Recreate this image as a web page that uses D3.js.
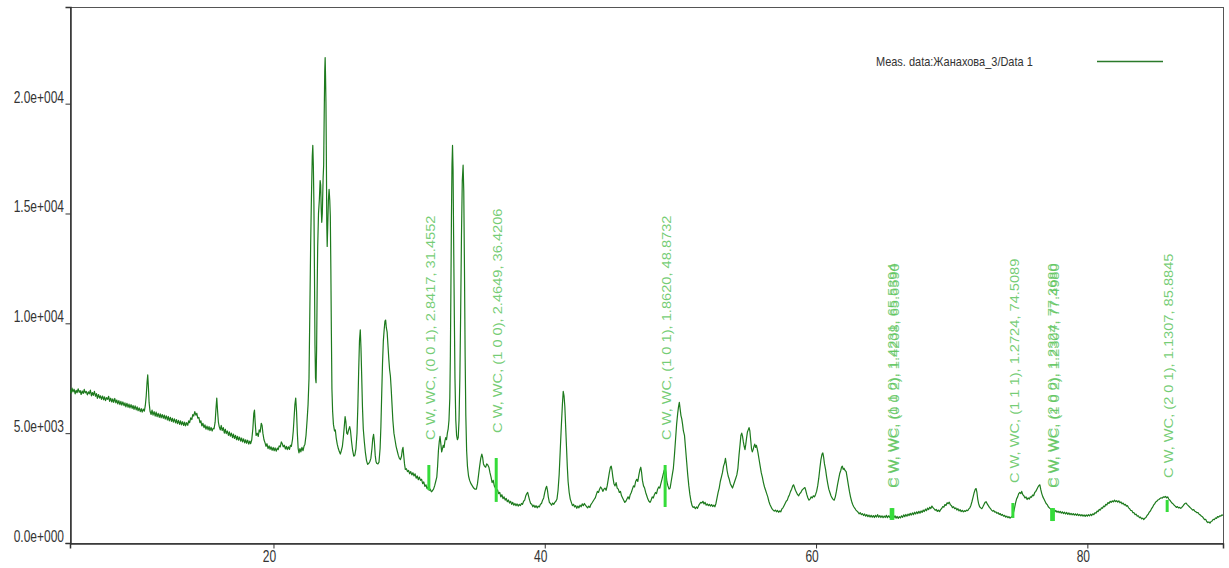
<!DOCTYPE html>
<html>
<head>
<meta charset="utf-8">
<script src="https://cdn.jsdelivr.net/npm/d3@7"></script>
<style>
  html, body { margin: 0; padding: 0; background: #ffffff; }
  svg { display: block; }
  text { font-family: Arial, "Liberation Sans", sans-serif; }
</style>
</head>
<body>
<svg id="chart" width="1229" height="568"></svg>
<script>
// Axis ticks
const xTicks = [20, 40, 60, 80];
const yTicks = [0, 5000, 10000, 15000, 20000];

// Measured scan, [2θ (deg), counts], split by angular range
const scanLow = [
  [5.00,6980],[5.08,6820],[5.15,7050],[5.22,6880],[5.30,7000],[5.38,6790],[5.45,6950],[5.52,6840],[5.60,7020],[5.68,6860],
  [5.75,6940],[5.82,6760],[5.90,6920],[5.98,6810],[6.05,6990],[6.12,6830],[6.20,6900],[6.28,6740],[6.35,6880],[6.42,6790],
  [6.50,6960],[6.58,6700],[6.65,6850],[6.72,6720],[6.80,6900],[6.88,6680],[6.95,6800],[7.02,6580],[7.10,6760],[7.18,6600],
  [7.25,6700],[7.32,6540],[7.40,6690],[7.48,6520],[7.55,6650],[7.62,6480],[7.70,6620],[7.78,6540],[7.85,6680],[7.92,6450],
  [8.00,6590],[8.08,6420],[8.15,6560],[8.22,6400],[8.30,6580],[8.38,6380],[8.45,6510],[8.52,6330],[8.60,6480],[8.68,6300],
  [8.75,6450],[8.82,6280],[8.90,6420],[8.98,6250],[9.05,6380],[9.12,6200],[9.20,6360],[9.28,6180],[9.35,6320],[9.42,6150],
  [9.50,6300],[9.58,6130],[9.65,6260],[9.72,6080],[9.80,6240],[9.88,6060],[9.95,6200],[10.02,6020],[10.10,6150],[10.18,5980],
  [10.25,6120],[10.32,5960],[10.40,6100],[10.48,6000],[10.55,6250],[10.62,6700],[10.68,7300],[10.73,7650],[10.78,7100],[10.83,6400],
  [10.90,6000],[10.98,5850],[11.05,6050],[11.12,5820],[11.20,5980],[11.28,5780],[11.35,5960],[11.42,5750],[11.50,5900],[11.58,5720],
  [11.65,5880],[11.72,5700],[11.80,5850],[11.88,5680],[11.95,5820],[12.02,5640],[12.10,5790],[12.18,5600],[12.25,5760],[12.32,5560],
  [12.40,5720],[12.48,5540],[12.55,5680],[12.62,5500],[12.70,5650],[12.78,5470],[12.85,5620],[12.92,5430],[13.00,5580],[13.08,5400],
  [13.15,5560],[13.22,5380],[13.30,5520],[13.38,5350],[13.45,5500],[13.52,5330],[13.60,5480],[13.68,5360],[13.75,5560],[13.82,5480],
  [13.90,5700],[13.98,5620],[14.05,5850],[14.12,5780],[14.20,5980],[14.28,5820],[14.35,5900],[14.42,5680],[14.50,5720],[14.58,5480],
  [14.65,5560],[14.72,5330],[14.80,5450],[14.88,5250],[14.95,5380],[15.02,5180],[15.10,5320],[15.18,5150],[15.25,5300],[15.32,5120],
  [15.40,5260],[15.48,5100],[15.55,5220],[15.62,5200],[15.70,5500],[15.76,6100],[15.82,6600],[15.88,6000],[15.94,5500],[16.00,5300],
  [16.08,5150],[16.15,5350],[16.22,5120],[16.30,5250],[16.38,5000],[16.45,5180],[16.52,4980],[16.60,5100],[16.68,4900],[16.75,5060],
  [16.82,4860],[16.90,5000],[16.98,4800],[17.05,4960],[17.12,4760],[17.20,4900],[17.28,4700],[17.35,4860],[17.42,4680],[17.50,4820],
  [17.58,4640],[17.65,4780],[17.72,4600],[17.80,4740],[17.88,4560],[17.95,4700],[18.02,4540],[18.10,4680],[18.18,4500],[18.25,4640],
  [18.32,4520],[18.40,4700],[18.48,5200],[18.55,5900],[18.60,6050],[18.65,5500],[18.72,4900],[18.80,5000],[18.88,4850],[18.95,5150],
  [19.02,5050],[19.10,5450],[19.16,5350],[19.22,5000],[19.30,4700],[19.38,4560],[19.45,4400],[19.52,4520],[19.60,4300],[19.68,4420],
  [19.75,4260],[19.82,4380],[19.90,4220],[19.98,4350],[20.05,4200],[20.12,4330],[20.20,4180],[20.28,4320],[20.35,4250],[20.42,4420],
  [20.50,4380],[20.58,4600],[20.65,4520],[20.72,4380],[20.80,4450],[20.88,4280],[20.95,4400],[21.02,4250],[21.10,4380],[21.18,4260],
  [21.25,4450],[21.32,4400],[21.40,4700],[21.46,5100],[21.52,5700],[21.58,6300],[21.64,6600],[21.70,6000],[21.76,5000],[21.82,4300],
  [21.88,4100],[21.95,4300],[22.02,4150],[22.10,4350],[22.18,4200],[22.25,4400],[22.32,4500],[22.40,4900],[22.48,5600]
];

const scanMain = [
  [22.55,6300],[22.62,7500],[22.68,10500],[22.74,13500],[22.80,15800],[22.86,17600],[22.90,18100],[22.94,17200],[22.98,15500],[23.02,12500],
  [23.06,9000],[23.10,7500],[23.14,7300],[23.18,8800],[23.22,11500],[23.26,13500],[23.32,15000],[23.38,15600],[23.44,16500],[23.48,16300],
  [23.52,15200],[23.56,14600],[23.60,15000],[23.66,16600],[23.70,17200],[23.74,19500],[23.78,21500],[23.81,22100],[23.84,21200],[23.87,20000],
  [23.90,17500],[23.93,14500],[23.96,13500],[24.00,14400],[24.05,15600],[24.10,16100],[24.15,15600],[24.19,14900],[24.23,12500],[24.27,9500],
  [24.31,7000],[24.36,6000],[24.42,5400],[24.50,5100],[24.56,5150],[24.62,4800],[24.70,4500],[24.78,4300],[24.86,4150],[24.93,4050],
  [25.00,4200],[25.08,4400],[25.15,4800],[25.22,5300],[25.28,5750],[25.34,5500],[25.40,5000],[25.46,4950],[25.54,5150],[25.62,5300],
  [25.68,5100],[25.76,4600],[25.84,4200],[25.92,3950],[26.00,4000],[26.08,4300],[26.16,5000],[26.22,6200],[26.28,7800],[26.34,9200],
  [26.40,9700],[26.45,8900],[26.50,7700],[26.56,6200],[26.62,5200],[26.70,4600],[26.78,4100],[26.86,3750],[26.94,3580],[27.02,3620],
  [27.10,3700],[27.18,3850],[27.26,4300],[27.32,4750],[27.38,4950],[27.44,4600],[27.50,4000],[27.56,3700],[27.62,3620],[27.70,3600],
  [27.78,3680],[27.86,4300],[27.92,5300],[27.98,6800],[28.04,8200],[28.10,9200],[28.16,9700],[28.22,10100],[28.27,10150],[28.32,9800],
  [28.38,9600],[28.44,9000],[28.50,8400],[28.56,7900],[28.62,7600],[28.68,7000],[28.74,6300],[28.80,5600],[28.88,5000],[28.96,4700],
  [29.04,4400],[29.12,4200],[29.20,4000],[29.28,3850],[29.36,3800],[29.44,3950],[29.50,4250],[29.55,4350],[29.60,4000],[29.66,3600],
  [29.72,3350],[29.80,3380],[29.88,3250],[29.96,3300],[30.04,3150],[30.12,3250],[30.20,3100],[30.28,3200],[30.36,3050],[30.44,3150],
  [30.52,2950],[30.60,3050],[30.68,2880],[30.76,3000],[30.84,2850],[30.92,2900],[31.00,2700],[31.08,2780],[31.16,2580],[31.24,2650],
  [31.32,2480],[31.40,2550],[31.48,2400],[31.56,2450],[31.64,2330],[31.72,2380],[31.80,2450],[31.88,2600],[31.96,2800],[32.04,3000],
  [32.10,3500],[32.16,4200],[32.22,4600],[32.28,4850],[32.34,4500],[32.40,4150],[32.46,4300],[32.52,4450],[32.58,4350],[32.64,4650],
  [32.70,4800],[32.76,4700],[32.82,5000],[32.88,5200],[32.94,5600],[33.00,6600],[33.04,8500],[33.08,11500],[33.12,14800],[33.16,17200],
  [33.20,18100],[33.24,17000],[33.28,14000],[33.33,10500],[33.38,7500],[33.44,5600],[33.50,4900],[33.56,4700],[33.62,4800],[33.68,5600],
  [33.74,7500],[33.80,10500],[33.86,14000],[33.92,16500],[33.98,17200],[34.03,16000],[34.08,12500],[34.13,8500],[34.18,5800],[34.24,4200],
  [34.30,3500],[34.38,3050],[34.46,2850],[34.56,2700],[34.66,2600],[34.76,2500],[34.86,2450],[34.96,2450],[35.04,2700],[35.12,3100],
  [35.20,3500],[35.28,3850],[35.36,4050],[35.42,3900],[35.48,3600],[35.56,3500],[35.64,3450],[35.72,3600],[35.80,3550],[35.88,3450],
  [35.96,3200]
];

const scanMid = [
  [36.04,3000],[36.12,2750],[36.20,2850],[36.28,2600],[36.36,2500],[36.44,2350],[36.52,2420],[36.60,2250],[36.68,2300],[36.76,2100],
  [36.84,2200],[36.92,2020],[37.00,2100],[37.08,1950],[37.16,2030],[37.24,1880],[37.32,1960],[37.40,1820],[37.48,1900],[37.56,1760],
  [37.64,1850],[37.72,1720],[37.80,1800],[37.88,1700],[37.96,1780],[38.04,1680],[38.12,1760],[38.20,1700],[38.28,1800],[38.36,1760],
  [38.44,1900],[38.52,1950],[38.60,2150],[38.68,2250],[38.74,2300],[38.80,2150],[38.88,1950],[38.96,1800],[39.04,1760],[39.12,1650],
  [39.20,1720],[39.28,1620],[39.36,1700],[39.44,1600],[39.52,1680],[39.60,1640],[39.68,1760],[39.76,1800],[39.84,1950],[39.92,2050],
  [40.00,2300],[40.08,2500],[40.14,2580],[40.20,2400],[40.26,2100],[40.34,1850],[40.42,1800],[40.50,1720],[40.58,1820],[40.66,1760],
  [40.74,1850],[40.82,1900],[40.90,2000],[40.98,2400],[41.06,3100],[41.14,4200],[41.22,5300],[41.30,6300],[41.36,6900],[41.42,6700],
  [41.48,6200],[41.54,5300],[41.60,4400],[41.66,3500],[41.72,2800],[41.80,2300],[41.88,2000],[41.96,1850],[42.04,1700],[42.12,1760],
  [42.20,1640],[42.28,1700],[42.36,1580],[42.44,1680],[42.52,1600],[42.60,1720],[42.68,1650],[42.76,1780],[42.84,1700],[42.92,1800],
  [43.00,1720],[43.08,1660],[43.16,1600],[43.24,1680],[43.32,1620],[43.40,1750],[43.48,1820],[43.56,1900],[43.64,1980],[43.72,2050],
  [43.80,2200],[43.88,2350],[43.96,2300],[44.04,2450],[44.12,2550],[44.20,2480],[44.28,2350],[44.36,2450],[44.44,2500],[44.52,2400],
  [44.60,2600],[44.68,2900],[44.76,3200],[44.84,3450],[44.90,3500],[44.96,3300],[45.02,3000],[45.10,2700],[45.18,2600],[45.26,2750],
  [45.34,2500],[45.42,2450],[45.50,2300],[45.58,2350],[45.66,2150],[45.74,2050],[45.82,1950],[45.90,1850],[45.98,1900],[46.06,2000],
  [46.14,2100],[46.22,2000],[46.30,2200],[46.38,2300],[46.46,2450],[46.54,2600],[46.62,2550],[46.70,2800],[46.78,2900],[46.86,2800],
  [46.94,3100],[47.02,3350],[47.08,3450],[47.14,3200],[47.20,2850],[47.28,2600],[47.36,2500],[47.44,2300],[47.52,2150],[47.60,2000],
  [47.68,1900],[47.76,1850],[47.84,1950],[47.92,2100],[48.00,2050],[48.08,2200],[48.16,2300],[48.24,2250],[48.32,2450],[48.40,2550],
  [48.48,2500],[48.56,2700],[48.64,2900],[48.72,3100],[48.80,3300],[48.88,3400],[48.94,3200],[49.00,2800],[49.08,2600],[49.16,2450],
  [49.24,2500],[49.32,2800],[49.40,3100],[49.48,3400],[49.56,4000],[49.64,4700],[49.72,5400],[49.80,5900],[49.86,6200],[49.92,6400],
  [49.98,6100],[50.04,5800],[50.10,5650],[50.16,5400],[50.22,5100],[50.30,4900],[50.38,4300],[50.46,3700],[50.54,3100],[50.62,2600],
  [50.70,2200],[50.78,1900],[50.86,1700],[50.94,1620],[51.02,1650],[51.10,1560],[51.18,1640],[51.26,1580],[51.34,1700],[51.42,1780],
  [51.50,1850],[51.58,1820],[51.66,1900],[51.74,1780],[51.82,1850],[51.90,1720],[51.98,1780],[52.06,1700],[52.14,1760],[52.22,1680],
  [52.30,1750],[52.38,1660],[52.46,1720],[52.54,1650],[52.62,1800],[52.70,2050],[52.78,2300],[52.86,2500],[52.94,2800],[53.02,3000],
  [53.10,3200],[53.18,3500],[53.26,3650],[53.32,3850],[53.38,3600],[53.44,3300],[53.52,3050],[53.60,2900],[53.68,2700],[53.76,2600],
  [53.84,2500],[53.92,2650],[54.00,2800],[54.08,2950],[54.16,3100],[54.24,3400],[54.32,4000],[54.40,4500],[54.46,4900],[54.52,5000],
  [54.58,4850],[54.64,4600],[54.70,4400],[54.76,4250],[54.82,4500],[54.88,4800],[54.94,5050],[55.00,5150],[55.06,5250],[55.12,5100],
  [55.18,4700],[55.24,4300],[55.30,4150],[55.36,4250],[55.42,4400],[55.48,4500],[55.54,4350],[55.60,4450],[55.66,4300],[55.72,4100],
  [55.80,3800],[55.88,3500],[55.96,3200],[56.04,3000],[56.12,2750],[56.20,2550],[56.28,2400],[56.36,2250],[56.44,2100],[56.52,1900],
  [56.60,1750],[56.68,1650],[56.76,1550],[56.84,1500],[56.92,1450],[57.00,1500],[57.08,1420],[57.16,1480],[57.24,1400],[57.32,1460],
  [57.40,1420],[57.48,1550],[57.56,1600],[57.64,1700],[57.72,1800],[57.80,1900],[57.88,1950],[57.96,2100],[58.04,2200],[58.12,2350],
  [58.20,2450],[58.28,2600],[58.34,2650],[58.40,2550],[58.48,2400],[58.56,2300],[58.64,2200],[58.72,2150],[58.80,2250],[58.88,2300],
  [58.96,2400],[59.04,2450],[59.12,2500],[59.18,2520],[59.24,2400],[59.32,2200],[59.40,2050],[59.48,1950],[59.56,2000],[59.64,2100],
  [59.72,2050],[59.80,2150],[59.88,2100],[59.96,2200],[60.04,2350],[60.12,2600],[60.20,2950],[60.28,3400],[60.36,3800],[60.44,4050],
  [60.50,4100],[60.56,3900],[60.62,3600],[60.70,3350],[60.78,3000],[60.86,2700],[60.94,2450],[61.02,2300],[61.10,2150],[61.18,2050],
  [61.26,1980],[61.34,1950],[61.42,2100],[61.50,2350],[61.58,2650],[61.66,2900],[61.74,3150],[61.82,3300],[61.88,3450],[61.94,3500],
  [62.00,3350],[62.06,3400],[62.14,3300],[62.22,3250],[62.30,2950],[62.38,2650],[62.46,2350],[62.54,2100],[62.62,1900],[62.70,1750],
  [62.78,1650],[62.86,1580]
];

const scanHigh = [
  [62.94,1500],[63.02,1450],[63.10,1400],[63.18,1330],[63.26,1380],[63.34,1290],[63.42,1340],[63.50,1250],[63.58,1320],[63.66,1220],
  [63.74,1290],[63.82,1200],[63.90,1270],[63.98,1180],[64.06,1260],[64.14,1170],[64.22,1250],[64.30,1160],[64.38,1260],[64.46,1180],
  [64.54,1290],[64.62,1170],[64.70,1250],[64.78,1160],[64.86,1240],[64.94,1150],[65.02,1230],[65.10,1160],[65.18,1260],[65.26,1150],
  [65.34,1240],[65.42,1170],[65.50,1290],[65.58,1180],[65.66,1260],[65.74,1150],[65.82,1240],[65.90,1130],[65.98,1210],[66.06,1120],
  [66.14,1200],[66.22,1140],[66.30,1240],[66.38,1170],[66.46,1280],[66.54,1200],[66.62,1300],[66.70,1220],[66.78,1320],[66.86,1250],
  [66.94,1350],[67.02,1270],[67.10,1370],[67.18,1290],[67.26,1400],[67.34,1320],[67.42,1420],[67.50,1340],[67.58,1440],[67.66,1360],
  [67.74,1460],[67.82,1390],[67.90,1500],[67.98,1430],[68.06,1540],[68.14,1470],[68.22,1590],[68.30,1520],[68.38,1630],[68.46,1570],
  [68.54,1680],[68.62,1610],[68.70,1560],[68.78,1490],[68.86,1530],[68.94,1440],[69.02,1500],[69.10,1430],[69.18,1520],[69.26,1570],
  [69.34,1660],[69.42,1630],[69.50,1750],[69.58,1710],[69.66,1830],[69.74,1790],[69.82,1860],[69.90,1740],[69.98,1700],[70.06,1610],
  [70.14,1650],[70.22,1560],[70.30,1600],[70.38,1500],[70.46,1560],[70.54,1460],[70.62,1520],[70.70,1430],[70.78,1490],[70.86,1420],
  [70.94,1470],[71.02,1440],[71.10,1500],[71.18,1470],[71.26,1550],[71.34,1600],[71.42,1720],[71.50,1900],[71.58,2100],[71.66,2300],
  [71.74,2450],[71.80,2480],[71.86,2300],[71.92,2000],[71.98,1800],[72.06,1650],[72.14,1600],[72.22,1560],[72.30,1650],[72.38,1750],
  [72.46,1850],[72.54,1880],[72.62,1780],[72.70,1700],[72.78,1620],[72.86,1560],[72.94,1500],[73.02,1450],[73.10,1480],[73.18,1400],
  [73.26,1420],[73.34,1350],[73.42,1380],[73.50,1300],[73.58,1340],[73.66,1260],[73.74,1300],[73.82,1220],[73.90,1260],[73.98,1180],
  [74.06,1220],[74.14,1150],[74.22,1200],[74.30,1130],[74.38,1180],[74.46,1200],[74.54,1350],[74.62,1550],[74.70,1800],[74.78,2000],
  [74.86,2100],[74.94,2250],[75.02,2300],[75.10,2250],[75.16,2350],[75.24,2200],[75.32,2150],[75.40,2050],[75.48,2100],[75.56,1980],
  [75.64,2050],[75.72,2000],[75.80,2100],[75.88,2080],[75.96,2180],[76.04,2150],[76.12,2300],[76.20,2350],[76.28,2450],[76.36,2550],
  [76.44,2620],[76.50,2650],[76.56,2450],[76.64,2250],[76.72,2100],[76.80,2000],[76.88,1900],[76.96,1800],[77.04,1750],[77.12,1650],
  [77.20,1600],[77.28,1550],[77.36,1500],[77.44,1480],[77.52,1500],[77.60,1420],[77.68,1480],[77.76,1400],[77.84,1450],[77.92,1380],
  [78.00,1440],[78.08,1360],[78.16,1420],[78.24,1340],[78.32,1400],[78.40,1320],[78.48,1390],[78.56,1300],[78.64,1370],[78.72,1290],
  [78.80,1350],[78.88,1280],[78.96,1340],[79.04,1270],[79.12,1330],[79.20,1260],[79.28,1320],[79.36,1250],[79.44,1300],[79.52,1230],
  [79.60,1290],[79.68,1220],[79.76,1280],[79.84,1210],[79.92,1280],[80.00,1220],[80.08,1290],[80.16,1230],[80.24,1310],[80.32,1250],
  [80.40,1330],[80.48,1290],[80.56,1380],[80.64,1360],[80.72,1450],[80.80,1430],[80.88,1530],[80.96,1500],[81.04,1600],[81.12,1580],
  [81.20,1680],[81.28,1650],[81.36,1760],[81.44,1730],[81.52,1840],[81.60,1800],[81.68,1900],[81.76,1850],[81.84,1920],[81.92,1870],
  [82.00,1950],[82.08,1880],[82.16,1930],[82.24,1860],[82.32,1920],[82.40,1830],[82.48,1870],[82.56,1780],[82.64,1820],[82.72,1730],
  [82.80,1760],[82.88,1680],[82.96,1700],[83.04,1600],[83.12,1560],[83.20,1480],[83.28,1480],[83.36,1380],[83.44,1380],[83.52,1290],
  [83.60,1310],[83.68,1220],[83.76,1240],[83.84,1150],[83.92,1180],[84.00,1100],[84.08,1130],[84.16,1070],[84.24,1130],[84.32,1160],
  [84.40,1250],[84.48,1300],[84.56,1400],[84.64,1450],[84.72,1550],[84.80,1620],[84.88,1720],[84.96,1780],[85.04,1870],[85.12,1900],
  [85.20,1960],[85.28,1980],[85.36,2030],[85.44,2060],[85.52,2040],[85.60,2100],[85.68,2080],[85.76,2120],[85.84,2060],[85.92,2100],
  [86.00,2000],[86.08,1950],[86.16,1880],[86.24,1820],[86.32,1780],[86.40,1720],[86.48,1680],[86.56,1620],[86.64,1660],[86.72,1600],
  [86.80,1620],[86.88,1580],[86.96,1620],[87.04,1680],[87.12,1750],[87.20,1800],[87.28,1820],[87.36,1750],[87.44,1700],[87.52,1650],
  [87.60,1600],[87.68,1550],[87.76,1500],[87.84,1520],[87.92,1450],[88.00,1420],[88.08,1380],[88.16,1380],[88.24,1310],[88.32,1280],
  [88.40,1230],[88.48,1200],[88.56,1130],[88.64,1060],[88.72,1080],[88.80,980],[88.88,930],[88.96,960],[89.04,900],[89.12,980],
  [89.20,1000],[89.28,1080],[89.36,1060],[89.44,1140],[89.52,1120],[89.60,1200],[89.68,1180],[89.76,1240],[89.84,1220],[89.92,1280],
  [90.00,1260]
];

// Reference reflections (phase, hkl, d, 2θ)
const refAngles = [31.4552, 36.4206, 48.8732, 65.6590, 65.5394, 74.5089, 77.3680, 77.4980, 85.8845];
const refLabels = [
  "C W, WC, (0 0 1), 2.8417, 31.4552",
  "C W, WC, (1 0 0), 2.4649, 36.4206",
  "C W, WC, (1 0 1), 1.8620, 48.8732",
  "C W, WC, (0 0 2), 1.4208, 65.6590",
  "C W, WC, (1 1 0), 1.4231, 65.5394",
  "C W, WC, (1 1 1), 1.2724, 74.5089",
  "C W, WC, (2 0 0), 1.2324, 77.3680",
  "C W, WC, (1 0 2), 1.2307, 77.4980",
  "C W, WC, (2 0 1), 1.1307, 85.8845"
];
// Stick extents (counts) and label start level (counts)
const stickLow   = [2410, 1870, 1640, 1050, 1050, 1140, 1000, 1000, 1410];
const stickHigh  = [3550, 3870, 3550, 1590, 1590, 1820, 1590, 1590, 1960];
const labelStart = [4690, 5010, 4690, 2510, 2510, 2730, 2510, 2510, 2960];

const legendLabel = "Meas. data:Жанахова_3/Data 1";

// ---- drawing ----
const svg = d3.select("#chart");
const plotLeft = 70, plotRight = 1223, plotTop = 7, plotBottom = 543;

const x = d3.scaleLinear().domain([5, 90]).range([plotLeft, plotRight]);
const y = d3.scaleLinear().domain([0, 24400]).range([plotBottom, plotTop]);

const scan = scanLow.concat(scanMain, scanMid, scanHigh);

svg.append("defs").append("clipPath").attr("id", "plotClip")
  .append("rect").attr("x", plotLeft).attr("y", plotTop)
  .attr("width", plotRight - plotLeft).attr("height", plotBottom - plotTop);

// frame
svg.append("rect")
  .attr("x", plotLeft + 0.5).attr("y", plotTop + 0.5)
  .attr("width", plotRight - plotLeft).attr("height", plotBottom - plotTop)
  .attr("fill", "none").attr("stroke", "#555").attr("stroke-width", 1);

// axes
const fmtExp = v => {
  if (v === 0) return "0.0e+000";
  const e = Math.floor(Math.log10(v));
  return (v / Math.pow(10, e)).toFixed(1) + "e+" + String(e).padStart(3, "0");
};

const yAxis = svg.append("g").attr("transform", `translate(${plotLeft + 0.5},0)`)
  .call(d3.axisLeft(y).tickValues(yTicks).tickSize(5).tickFormat(""));
const xAxis = svg.append("g").attr("transform", `translate(0,${plotBottom + 0.5})`)
  .call(d3.axisBottom(x).tickValues(xTicks).tickSize(5).tickFormat(""));
[yAxis, xAxis].forEach(g => {
  g.select(".domain").attr("stroke", "#333").attr("stroke-width", 1.5);
  g.selectAll(".tick line").attr("stroke", "#333");
});

svg.append("g").selectAll("text").data(yTicks).join("text")
  .attr("transform", d => `translate(${plotLeft - 6},${y(d) - 1}) scale(1,1.3)`)
  .attr("text-anchor", "end")
  .attr("font-size", 12)
  .attr("fill", "#333")
  .text(fmtExp);

svg.append("g").selectAll("text").data(xTicks).join("text")
  .attr("transform", d => `translate(${x(d) - 4},${plotBottom + 19}) scale(1,1.3)`)
  .attr("text-anchor", "middle")
  .attr("font-size", 12)
  .attr("fill", "#333")
  .text(d => d);

// reflection labels
svg.append("g").selectAll("text").data(refAngles).join("text")
  .attr("transform", (d, i) => `translate(${x(d) + 1.5},${y(labelStart[i])}) rotate(-90) scale(1.22,1)`)
  .attr("dy", "0.36em")
  .attr("font-size", 12)
  .attr("fill", "#5cc45c")
  .attr("fill-opacity", 0.85)
  .text((d, i) => refLabels[i]);

// measured pattern
const line = d3.line().x(d => x(d[0])).y(d => y(d[1]));
svg.append("path")
  .datum(scan)
  .attr("clip-path", "url(#plotClip)")
  .attr("d", line)
  .attr("fill", "none")
  .attr("stroke", "#1d7a1d")
  .attr("stroke-width", 1.2)
  .attr("stroke-linejoin", "round");

// reflection sticks
svg.append("g").selectAll("line").data(refAngles).join("line")
  .attr("x1", d => x(d)).attr("x2", d => x(d))
  .attr("y1", (d, i) => y(stickLow[i]))
  .attr("y2", (d, i) => y(stickHigh[i]))
  .attr("stroke", "#35dc3a")
  .attr("stroke-width", 3);

// legend
svg.append("text")
  .attr("transform", "translate(876,66) scale(1,1.2)")
  .attr("font-size", 11)
  .attr("fill", "#333")
  .text(legendLabel);
svg.append("line")
  .attr("x1", 1097).attr("x2", 1163).attr("y1", 61.5).attr("y2", 61.5)
  .attr("stroke", "#2a7a2a").attr("stroke-width", 1.5);
</script>
</body>
</html>
